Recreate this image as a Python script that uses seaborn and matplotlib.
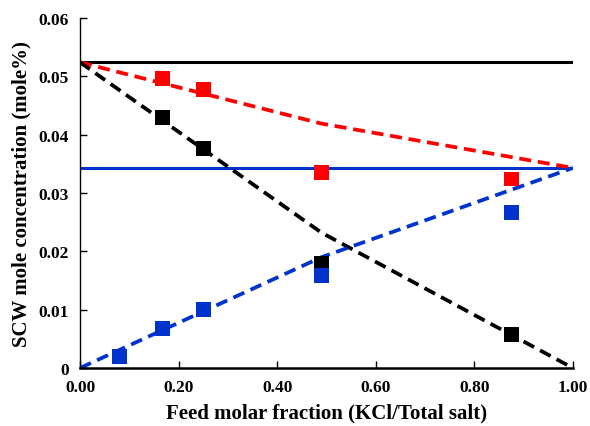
import numpy as np
import pandas as pd
import matplotlib
matplotlib.use('Agg')
import matplotlib.pyplot as plt
from matplotlib.ticker import FuncFormatter
import seaborn as sns

# feed molar fraction of KCl and measured SCW concentrations (mole%)
frac_exp = [0.167, 0.25, 0.49, 0.875]
red_exp = [0.0497, 0.0477, 0.0335, 0.0324]
black_exp = [0.0429, 0.0377, 0.0179, 0.0057]
frac_blue = [0.08, 0.167, 0.25, 0.49, 0.875]
blue_exp = [0.0020, 0.0068, 0.0101, 0.0158, 0.0267]

# model curves (piecewise, break at 0.49)
frac_model = [0.0, 0.49, 1.0]
red_model = [0.0524, 0.0419, 0.0343]
black_model = [0.0524, 0.0232, 0.0]
blue_model = [0.0, 0.0190, 0.0343]

# pure-salt solubility levels
pure_x = [0.0, 1.0]
pure_nacl = [0.0524, 0.0524]
pure_kcl = [0.0343, 0.0343]

BLUE = '#0033CC'
RED = '#FF0000'

sns.set_style('ticks')
plt.rcParams['font.family'] = ['Liberation Serif', 'DejaVu Serif']
plt.rcParams['font.weight'] = 'bold'
plt.rcParams['text.color'] = 'black'
plt.rcParams['axes.labelcolor'] = 'black'

fig = plt.figure(figsize=(5.9, 4.27), dpi=100)
ax = fig.add_axes([0.1356, 0.1358, 0.8354, 0.8197])

sns.lineplot(x=pure_x, y=pure_nacl, color='black', linewidth=2.2, ax=ax)
sns.lineplot(x=pure_x, y=pure_kcl, color=BLUE, linewidth=2.2, ax=ax)

for yy, c in [(red_model, RED), (black_model, 'black'), (blue_model, BLUE)]:
    sns.lineplot(x=frac_model, y=yy, color=c, linewidth=2.7, ax=ax,
                 linestyle=(0, (3.2, 1.8)))

kw = dict(marker='s', s=115, edgecolor='none', ax=ax, zorder=5)
sns.scatterplot(x=frac_exp, y=red_exp, color=RED, **kw)
sns.scatterplot(x=frac_exp, y=black_exp, color='black', **kw)
sns.scatterplot(x=frac_blue, y=blue_exp, color=BLUE, **kw)

ax.set_xlim(0, 1.0)
ax.set_ylim(0, 0.06)
ax.set_xticks(np.arange(0, 1.01, 0.2))
ax.set_yticks(np.arange(0, 0.061, 0.01))
ax.xaxis.set_major_formatter(FuncFormatter(lambda v, p: f'{v:.2f}'))
ax.yaxis.set_major_formatter(FuncFormatter(lambda v, p: '0' if abs(v) < 1e-9 else f'{v:.2f}'))
ax.tick_params(direction='in', length=5, width=1, colors='black', labelsize=12.5, pad=8)
for lab in ax.get_xticklabels() + ax.get_yticklabels():
    lab.set_fontweight('bold')

sns.despine(ax=ax)
ax.spines['left'].set_linewidth(1.0)
ax.spines['bottom'].set_linewidth(1.8)
ax.spines['left'].set_color('black')
ax.spines['bottom'].set_color('black')

ax.set_xlabel('Feed molar fraction (KCl/Total salt)', fontsize=15, fontweight='bold',
              labelpad=5, color='black')
ax.set_ylabel('SCW mole concentration (mole%)', fontsize=15, fontweight='bold',
              labelpad=5, color='black')

fig.savefig('out.png', dpi=100)
